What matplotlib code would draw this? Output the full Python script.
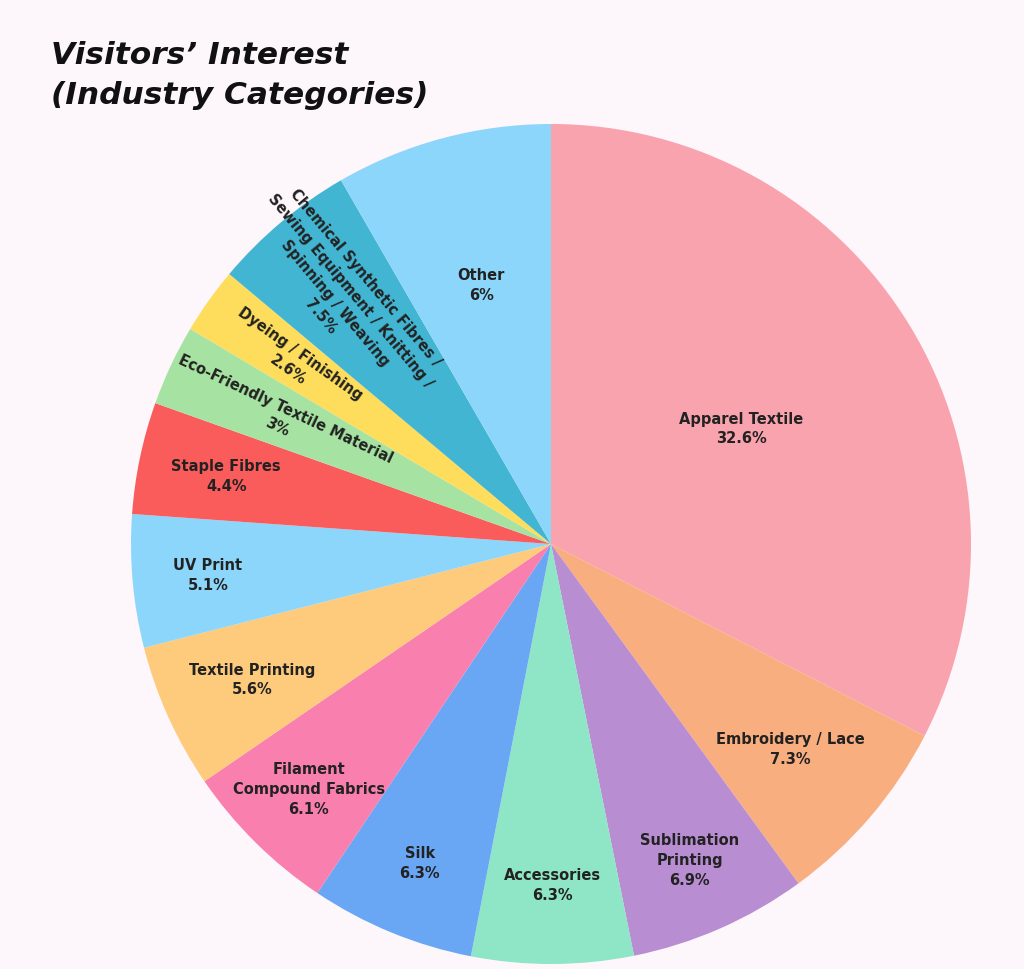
import matplotlib
matplotlib.use("Agg")
import matplotlib.pyplot as plt
import numpy as np

labels = ["Apparel Textile", "Embroidery / Lace", "Sublimation\nPrinting", "Accessories", "Silk",
          "Filament\nCompound Fabrics", "Textile Printing", "UV Print", "Staple Fibres",
          "Eco-Friendly Textile Material", "Dyeing / Finishing",
          "Chemical Synthetic Fibres /\nSewing Equipment / Knitting /\nSpinning / Weaving", "Other"]
pct_text = ["32.6%", "7.3%", "6.9%", "6.3%", "6.3%", "6.1%", "5.6%", "5.1%", "4.4%", "3%", "2.6%", "7.5%", "6%"]
# slice sizes as drawn in the reference (degrees of arc)
slice_sizes = [117.2, 26.7, 24.7, 22.4, 22.8, 21.8, 20.1, 18.4, 15.5, 11.2, 9.2, 20.0, 30.0]
colors = ["#F9A3AE", "#F9AE7F", "#B88DD1", "#8EE6C6", "#69A7F5", "#F97FAE", "#FDCB7B",
          "#8DD6FB", "#FA5C5C", "#A6E3A2", "#FDDD5B", "#41B5D2", "#8DD6FB"]
label_r = [0.53, 0.75, 0.82, 0.81, 0.82, 0.82, 0.78, 0.82, 0.79, 0.71, 0.75, 0.77, 0.64]
rotated = [False]*9 + [True, True, True, False]

bg = "#FDF6FB"
fig = plt.figure(figsize=(10.24, 9.7), dpi=100, facecolor=bg)
R = 420
ax = fig.add_axes([(551 - R) / 1024, (970 - 545 - R) / 970, 2 * R / 1024, 2 * R / 970])
ax.set_facecolor(bg)
wedges, _ = ax.pie(slice_sizes, colors=colors, startangle=90, counterclock=False, radius=1,
                   wedgeprops=dict(linewidth=0))
ax.set_xlim(-1, 1); ax.set_ylim(-1, 1); ax.set_aspect("equal"); ax.axis("off")

for w, lab, p, r, rot in zip(wedges, labels, pct_text, label_r, rotated):
    th = np.deg2rad((w.theta1 + w.theta2) / 2)
    x, y = r * np.cos(th), r * np.sin(th)
    ang = np.rad2deg(th) - 180 if rot else 0
    ax.text(x, y, lab + "\n" + p, ha="center", va="center", fontsize=10.5, fontweight="bold",
            color="#222222", rotation=ang, rotation_mode="anchor", linespacing=1.4)

fig.text(0.05, 0.958, "Visitors’ Interest\n(Industry Categories)", fontsize=22.5, fontweight="bold",
         fontstyle="italic", color="#111111", va="top", ha="left", linespacing=1.5)
fig.savefig("out.png", dpi=100, facecolor=bg)
